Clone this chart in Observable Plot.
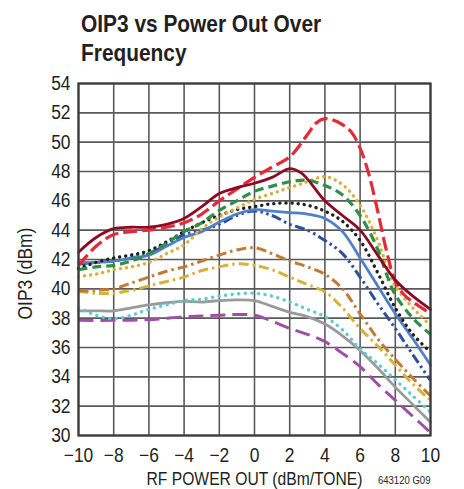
<!DOCTYPE html>
<html>
<head>
<meta charset="utf-8">
<script src="https://cdn.jsdelivr.net/npm/d3@7"></script>
<script src="https://cdn.jsdelivr.net/npm/@observablehq/plot@0.6"></script>
<style>
  html, body { margin: 0; padding: 0; background: #fff; }
  #wrap { width: 464px; height: 489px; position: relative; overflow: hidden; }
  #titlebox { height: 70px; position: relative; }
  #title { position: absolute; left: 81px; top: 9px; white-space: nowrap; transform: scaleX(0.87); transform-origin: 0 0; font-family: 'Liberation Sans', Arial, sans-serif; font-weight: bold; font-size: 24px; line-height: 29px; color: #231f20; }
  svg { display: block; }
</style>
</head>
<body>
<div id="wrap">
  <div id="titlebox"><div id="title">OIP3 vs Power Out Over<br>Frequency</div></div>
  <div id="chart"></div>
</div>
<script>
// ---- data: [RF power out (dBm/tone), OIP3 (dBm)] ----
const xTicks = [-10, -8, -6, -4, -2, 0, 2, 4, 6, 8, 10];
const yTicks = [30, 32, 34, 36, 38, 40, 42, 44, 46, 48, 50, 52, 54];

const maroonSolid = [[-10,42.5],[-9,43.5],[-8,44.1],[-7,44.2],[-6,44.2],[-5,44.4],[-4,44.8],[-3,45.6],[-2,46.5],[-1,46.9],[0,47.2],[1,47.6],[2,48.2],[2.6,47.95],[3,47.5],[4,46.0],[5,45.0],[6,44.0],[7,42.3],[8,40.6],[9,39.5],[10,38.6]];
const redDash = [[-10,41.6],[-9,42.9],[-8,43.7],[-7,43.9],[-6,44.0],[-5,44.2],[-4,44.5],[-3,45.1],[-2,46.0],[-1,46.8],[0,47.6],[1,48.3],[2,49.0],[3,50.5],[3.5,51.3],[4,51.6],[4.5,51.5],[5,51.2],[5.5,50.7],[6,49.6],[6.5,47.8],[7,45.3],[7.5,42.6],[8,40.5],[8.5,39.6],[9,39.1],[9.5,38.7],[10,38.3]];
const greenDash = [[-10,41.3],[-9,41.5],[-8,41.6],[-7,41.9],[-6,42.4],[-5,43.1],[-4,43.9],[-3,44.5],[-2,45.35],[-1,46.0],[0,46.65],[1,47.0],[2,47.3],[3,47.4],[4,47.05],[5,46.4],[6,45.0],[7,42.7],[7.5,41.0],[8,39.6],[9,38.0],[10,36.9]];
const goldDot = [[-10,40.85],[-9,41.0],[-8,41.3],[-7,41.5],[-6,41.8],[-5,42.4],[-4,43.0],[-3,44.1],[-2,44.9],[-1,45.5],[0,46.1],[1,46.5],[2,46.9],[3,47.3],[4,47.65],[5,47.1],[6,45.7],[7,43.3],[7.5,41.6],[8,40.2],[9,38.7],[10,37.5]];
const blackDot = [[-10,41.4],[-9,41.8],[-8,42.1],[-7,42.3],[-6,42.6],[-5,43.2],[-4,43.9],[-3,44.5],[-2,45.0],[-1,45.4],[0,45.6],[1,45.8],[2,45.85],[3,45.7],[4,45.3],[5,44.6],[6,43.3],[7,41.1],[8,38.7],[9,36.9],[10,35.7]];
const blueSolid = [[-10,41.8],[-9,41.8],[-8,41.9],[-7,42.1],[-6,42.3],[-5,42.9],[-4,43.5],[-3,43.9],[-2,44.55],[-1,45.1],[0,45.4],[1,45.3],[2,45.2],[3,45.1],[4,44.8],[5,43.9],[6,42.1],[7,40.2],[8,38.3],[9,36.6],[10,34.8]];
const blueDashDot = [[-10,41.7],[-9,41.8],[-8,41.9],[-7,42.1],[-6,42.4],[-5,43.0],[-4,43.7],[-3,44.0],[-2,44.4],[-1,45.0],[0,45.3],[1,45.0],[2,44.4],[3,44.0],[4,43.3],[5,42.4],[6,40.8],[7,39.0],[8,37.3],[9,35.5],[10,33.75]];
const orangeDashDot = [[-10,39.85],[-9,39.9],[-8,40.0],[-7,40.4],[-6,40.8],[-5,41.2],[-4,41.5],[-3,41.9],[-2,42.3],[-1,42.65],[0,42.8],[1,42.4],[2,41.9],[3,41.5],[4,41.0],[5,40.0],[6,38.3],[7,36.6],[8,35.2],[9,33.9],[10,32.7]];
const goldDashDot = [[-10,39.85],[-9,39.7],[-8,39.7],[-7,39.9],[-6,40.2],[-5,40.5],[-4,40.8],[-3,41.25],[-2,41.5],[-1,41.7],[0,41.6],[1,41.3],[2,40.8],[3,40.3],[4,39.8],[5,38.7],[6,37.3],[7,36.1],[8,34.8],[9,33.5],[10,32.4]];
const cyanDot = [[-10,38.7],[-9,38.2],[-8,37.95],[-7,38.2],[-6,38.6],[-5,38.9],[-4,39.2],[-3,39.3],[-2,39.5],[-1,39.65],[0,39.7],[1,39.5],[2,39.1],[3,38.6],[4,38.1],[5,37.2],[6,35.9],[7,34.9],[8,33.8],[9,32.7],[10,31.6]];
const graySolid = [[-10,38.5],[-9,38.5],[-8,38.5],[-7,38.7],[-6,38.9],[-5,39.05],[-4,39.15],[-3,39.1],[-2,39.2],[-1,39.25],[0,39.2],[1,38.8],[2,38.4],[3,38.1],[4,37.6],[5,36.8],[6,35.8],[7,34.6],[8,33.3],[9,32.1],[10,30.9]];
const purpleDash = [[-10,37.85],[-8,37.85],[-6,37.9],[-4,38.1],[-3,38.15],[-2,38.2],[-1,38.25],[0,38.2],[1,37.8],[2,37.3],[3,36.9],[4,36.4],[5,35.6],[6,34.7],[7,33.5],[8,32.4],[9,31.3],[10,30.2]];

// ---- styles ----
const lineStyles = [
  {data: purpleDash,    color: "#a04fa6", width: 3,   dash: "15,7",            cap: "butt"},
  {data: graySolid,     color: "#9a9a9a", width: 2.8, dash: null,              cap: "round"},
  {data: cyanDot,       color: "#5ecbd0", width: 3.4, dash: "0.1,6.5",         cap: "round"},
  {data: goldDashDot,   color: "#d6b23a", width: 3,   dash: "10,4,2.5,4",      cap: "butt"},
  {data: orangeDashDot, color: "#c27a35", width: 3,   dash: "10,4,2.5,4",      cap: "butt"},
  {data: blueDashDot,   color: "#2d4f9e", width: 3,   dash: "10,3.5,2.5,3.5,2.5,3.5", cap: "butt"},
  {data: blueSolid,     color: "#4f80c8", width: 2.8, dash: null,              cap: "round"},
  {data: blackDot,      color: "#231f20", width: 3.4, dash: "0.1,6",           cap: "round"},
  {data: goldDot,       color: "#d6b23a", width: 3.4, dash: "0.1,6",           cap: "round"},
  {data: greenDash,     color: "#2f8f48", width: 3.2, dash: "9,5",             cap: "butt"},
  {data: redDash,       color: "#e42a36", width: 3.2, dash: "14,5",            cap: "butt"},
  {data: maroonSolid,   color: "#8c0b24", width: 2.8, dash: null,              cap: "round"}
];

const font = "'Liberation Sans', Arial, sans-serif";
const textScale = 0.87; // horizontal condensing of chart text
const fmt = d => d < 0 ? "\u2212" + Math.abs(d) : String(d);

const lineMarks = lineStyles.map(s => Plot.line(s.data, {
  x: d => d[0], y: d => d[1],
  stroke: s.color, strokeWidth: s.width,
  strokeDasharray: s.dash, strokeLinecap: s.cap, strokeLinejoin: "round",
  curve: "catmull-rom"
}));

const chart = Plot.plot({
  width: 464,
  height: 419,
  marginTop: 13,
  marginLeft: 78,
  marginRight: 34,
  marginBottom: 54,
  style: {fontFamily: font, fontSize: "20px", color: "#231f20", background: "#fff", overflow: "visible"},
  x: {domain: [-10, 10]},
  y: {domain: [30, 54]},
  marks: [
    Plot.gridX(xTicks, {stroke: "#5a5a5a", strokeOpacity: 1, strokeWidth: 1.6}),
    Plot.gridY(yTicks, {stroke: "#5a5a5a", strokeOpacity: 1, strokeWidth: 1.6}),
    ...lineMarks,
    Plot.frame({stroke: "#3a3a3a", strokeWidth: 2.2}),
    Plot.axisX(xTicks, {tickSize: 0, tickPadding: 12, tickFormat: fmt, label: null, fontSize: 20}),
    Plot.axisY(yTicks, {tickSize: 0, tickPadding: 8, tickFormat: fmt, label: null, fontSize: 20}),
    Plot.text(["RF POWER OUT (dBm/TONE)"], {frameAnchor: "bottom", lineAnchor: "middle", textAnchor: "middle", dy: 44, fontSize: 18, fill: "#231f20"}),
    Plot.text(["643120 G09"], {frameAnchor: "bottom-right", lineAnchor: "middle", textAnchor: "end", dy: 45, dx: 0, fontSize: 11, fill: "#231f20"}),
    Plot.text(["OIP3 (dBm)"], {frameAnchor: "left", lineAnchor: "middle", textAnchor: "middle", dx: -53, dy: 14, rotate: -90, fontSize: 20, fill: "#231f20"})
  ]
});

// condense text horizontally around each label's anchor
chart.querySelectorAll("text").forEach(t => {
  const tr = t.getAttribute("transform");
  if (tr) {
    t.setAttribute("transform", tr + ` scale(${textScale},1)`);
  } else {
    const x = +t.getAttribute("x") || 0, y = +t.getAttribute("y") || 0;
    t.removeAttribute("x"); t.removeAttribute("y");
    t.setAttribute("transform", `translate(${x},${y}) scale(${textScale},1)`);
  }
});
document.getElementById("chart").appendChild(chart);
</script>
</body>
</html>
